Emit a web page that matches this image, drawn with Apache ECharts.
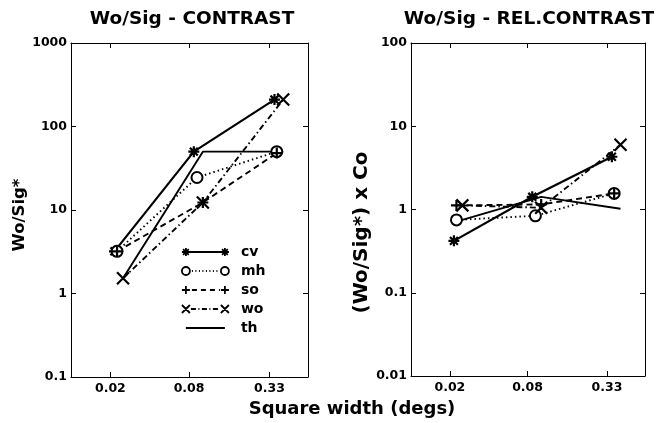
<!DOCTYPE html>
<html>
<head>
<meta charset="utf-8">
<script src="https://cdn.jsdelivr.net/npm/echarts@6/dist/echarts.min.js"></script>
<style>html,body{margin:0;padding:0;background:#fff}#c{width:656px;height:423px}</style>
</head>
<body>
<div id="c"></div>
<script>
// ---- data ----
var seriesNames = ['cv', 'mh', 'so', 'wo', 'th'];
var xTickValues = [0.02, 0.08, 0.33];
var yTicksLeft = [0.1, 1, 10, 100, 1000];
var yTicksRight = [0.01, 0.1, 1, 10, 100];

// square widths (degs) per observer (slightly offset in the original)
var cvX = [0.0215, 0.087, 0.36];
var mhX = [0.0225, 0.092, 0.375];
var soX = [0.0225, 0.102, 0.375];
var woX = [0.025, 0.102, 0.42];
var thX = [0.025, 0.102, 0.42];

// Wo/Sig* - CONTRAST
var cvLeft = [3.2, 50, 210];
var mhLeft = [3.2, 24.5, 50];
var soLeft = [3.2, 12.3, 48];
var woLeft = [1.52, 12.3, 210];
var thLeft = [1.52, 50, 50];

// (Wo/Sig*) x Co - REL.CONTRAST
var cvRight = [0.42, 1.42, 4.3];
var mhRight = [0.75, 0.84, 1.56];
var soRight = [1.12, 1.15, 1.56];
var woRight = [1.12, 1.05, 6.0];
var thRight = [0.75, 1.42, 1.02];

// ---- helpers ----
function pairs(xs, ys) { return xs.map(function (x, i) { return [x, ys[i]]; }); }
var FONT = 'DejaVu Sans';
var ASTER = 'path://M0,-5L0,5M-5,0L5,0M-3.6,-3.6L3.6,3.6M-3.6,3.6L3.6,-3.6';
var PLUS = 'path://M0,-5L0,5M-5,0L5,0';
var CROSS = 'path://M-5,-5L5,5M-5,5L5,-5';

var styles = {
  cv: { symbol: ASTER, size: 11, line: 'solid', width: 2.2 },
  mh: { symbol: 'emptyCircle', size: 11, line: [1.5, 3], width: 1.9 },
  so: { symbol: PLUS, size: 11, line: [6, 4], width: 1.9 },
  wo: { symbol: CROSS, size: 12, line: [6, 3, 1.5, 3], width: 1.9 },
  th: { symbol: 'none', size: 0, line: 'solid', width: 1.9 }
};

// legend icons: marker - line - marker (like the original key)
var LW = 55, LH = 12, CY = 6, A = 5, B = 44, R = 4;
function mAster(cx) { var d = R * 0.72; return 'M' + cx + ',' + (CY - R) + 'L' + cx + ',' + (CY + R) + 'M' + (cx - R) + ',' + CY + 'L' + (cx + R) + ',' + CY + 'M' + (cx - d) + ',' + (CY - d) + 'L' + (cx + d) + ',' + (CY + d) + 'M' + (cx - d) + ',' + (CY + d) + 'L' + (cx + d) + ',' + (CY - d); }
function mCircle(cx) { return 'M' + (cx + R) + ',' + CY + 'A' + R + ',' + R + ',0,1,1,' + (cx - R) + ',' + CY + 'A' + R + ',' + R + ',0,1,1,' + (cx + R) + ',' + CY + 'Z'; }
function mPlus(cx) { return 'M' + cx + ',' + (CY - R) + 'L' + cx + ',' + (CY + R) + 'M' + (cx - R) + ',' + CY + 'L' + (cx + R) + ',' + CY; }
function mCross(cx) { return 'M' + (cx - R) + ',' + (CY - R) + 'L' + (cx + R) + ',' + (CY + R) + 'M' + (cx - R) + ',' + (CY + R) + 'L' + (cx + R) + ',' + (CY - R); }
function seg(a, b, pattern) {
  if (!pattern) return 'M' + a + ',' + CY + 'L' + b + ',' + CY;
  var s = '', x = a, k = 0;
  while (x < b) {
    var len = pattern[k % pattern.length], gap = pattern[(k + 1) % pattern.length];
    var e = Math.min(x + len, b);
    s += 'M' + x + ',' + CY + 'L' + e + ',' + CY;
    x = e + gap; k += 2;
  }
  return s;
}
var box = 'M0,0M' + LW + ',' + LH;
var legendIcons = {
  cv: 'path://' + box + mAster(A) + seg(A, B) + mAster(B),
  mh: 'path://' + box + mCircle(A) + seg(A + R + 2, B - R - 1, [1, 2.5]) + mCircle(B),
  so: 'path://' + box + mPlus(A) + seg(A + R + 2, B - R - 1, [5, 4]) + mPlus(B),
  wo: 'path://' + box + mCross(A) + seg(A + R + 1, B - R - 1, [5, 2.5, 1, 2.5]) + mCross(B),
  th: 'path://' + box + seg(A, B)
};

function fmt(v) { return String(+(+v).toPrecision(4)); }

function xAxes(grid) {
  var common = {
    type: 'log', logBase: 10, min: 0.01, max: 0.65, gridIndex: grid,
    axisLine: { show: true, lineStyle: { color: '#000', width: 1 } },
    splitLine: { show: false },
    minorTick: { show: false }
  };
  return [
    Object.assign({}, common, {
      position: 'bottom',
      axisTick: { show: true, inside: true, length: 5, lineStyle: { color: '#000' }, customValues: xTickValues },
      axisLabel: { show: true, margin: 5, color: '#000', fontFamily: FONT, fontWeight: 'bold', fontSize: 12.5, customValues: xTickValues, formatter: fmt }
    }),
    Object.assign({}, common, {
      position: 'top',
      axisTick: { show: true, inside: true, length: 5, lineStyle: { color: '#000' }, customValues: xTickValues },
      axisLabel: { show: false }
    })
  ];
}
function yAxes(grid, min, max, name, nameSize, nameGap, namePad) {
  var common = {
    type: 'log', logBase: 10, min: min, max: max, gridIndex: grid,
    axisLine: { show: true, lineStyle: { color: '#000', width: 1 } },
    splitLine: { show: false },
    minorTick: { show: false },
    axisTick: { show: true, inside: true, length: 5, lineStyle: { color: '#000' } }
  };
  return [
    Object.assign({}, common, {
      position: 'left',
      name: name, nameLocation: 'middle', nameGap: nameGap,
      nameTextStyle: { color: '#000', fontFamily: FONT, fontWeight: 'bold', fontSize: nameSize, padding: [0, namePad, 0, 0] },
      axisLabel: { show: true, margin: 4, color: '#000', fontFamily: FONT, fontWeight: 'bold', fontSize: 12.5, formatter: fmt }
    }),
    Object.assign({}, common, { position: 'right', axisLabel: { show: false } })
  ];
}

var leftData = { cv: pairs(cvX, cvLeft), mh: pairs(mhX, mhLeft), so: pairs(soX, soLeft), wo: pairs(woX, woLeft), th: pairs(thX, thLeft) };
var rightData = { cv: pairs(cvX, cvRight), mh: pairs(mhX, mhRight), so: pairs(soX, soRight), wo: pairs(woX, woRight), th: pairs(thX, thRight) };

function makeSeries(dataMap, xIdx, yIdx) {
  return seriesNames.map(function (n) {
    var st = styles[n];
    return {
      name: n, type: 'line', xAxisIndex: xIdx, yAxisIndex: yIdx,
      data: dataMap[n],
      symbol: st.symbol, symbolSize: st.size, showSymbol: st.symbol !== 'none', showAllSymbol: true,
      lineStyle: { color: '#000', width: st.width, type: st.line },
      itemStyle: { color: '#000', borderColor: '#000', borderWidth: st.symbol === 'emptyCircle' ? 1.8 : 2.2 },
      emphasis: { disabled: true },
      animation: false,
      z: 3
    };
  });
}

var chart = echarts.init(document.getElementById('c'), null, { renderer: 'canvas' });
chart.setOption({
  backgroundColor: '#fff',
  animation: false,
  title: [
    { text: 'Wo/Sig - CONTRAST', left: 192, top: 10, padding: 0, textAlign: 'center', textStyle: { color: '#000', fontFamily: FONT, fontWeight: 'bold', fontSize: 18.5 } },
    { text: 'Wo/Sig - REL.CONTRAST', left: 529, top: 10, padding: 0, textAlign: 'center', textStyle: { color: '#000', fontFamily: FONT, fontWeight: 'bold', fontSize: 18.5 } },
    { text: 'Square width (degs)', left: 352, top: 400, padding: 0, textAlign: 'center', textStyle: { color: '#000', fontFamily: FONT, fontWeight: 'bold', fontSize: 18 } }
  ],
  legend: {
    left: 180, top: 245, orient: 'vertical', padding: 0,
    itemWidth: LW, itemHeight: LH, itemGap: 5,
    selectedMode: false,
    itemStyle: { color: 'rgba(0,0,0,0)', borderColor: '#000', borderWidth: 1.8 },
    textStyle: { color: '#000', fontFamily: FONT, fontWeight: 'bold', fontSize: 14, lineHeight: 14 },
    data: seriesNames.map(function (n) { return { name: n, icon: legendIcons[n] }; })
  },
  grid: [
    { left: 71, right: 348, top: 43, bottom: 46 },
    { left: 411, right: 11, top: 43, bottom: 47 }
  ],
  xAxis: xAxes(0).concat(xAxes(1)),
  yAxis: yAxes(0, 0.1, 1000, 'Wo/Sig*', 16.5, 41, 10).concat(yAxes(1, 0.01, 100, '(Wo/Sig*) x Co', 20, 25, 46)),
  series: makeSeries(leftData, 0, 0).concat(makeSeries(rightData, 2, 2))
});
</script>
</body>
</html>
